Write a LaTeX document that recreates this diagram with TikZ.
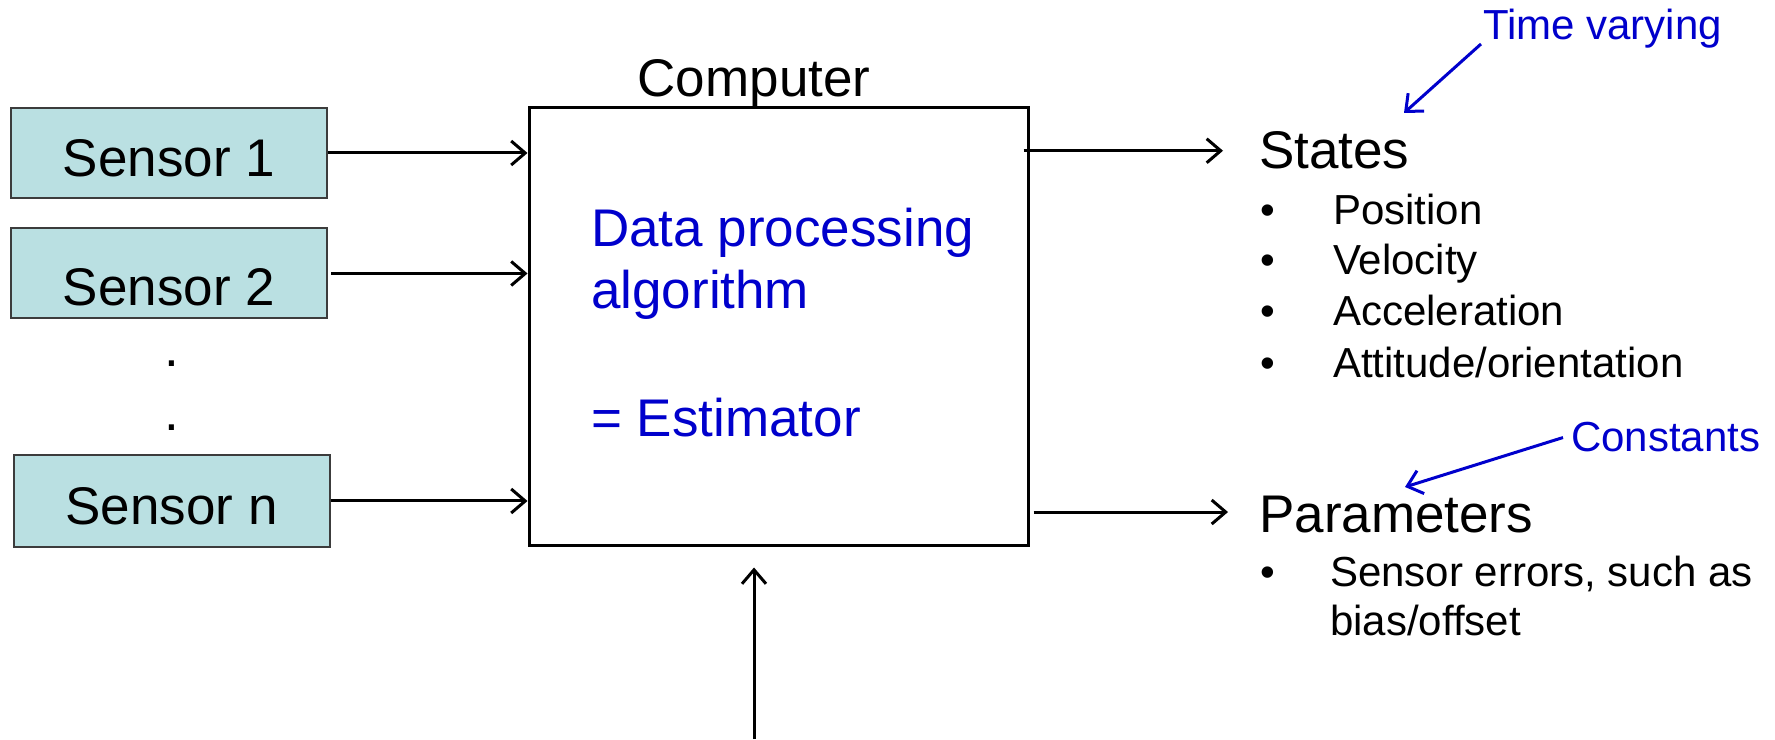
\documentclass[tikz,border=0pt]{standalone}
\usepackage{fontspec}
\setmainfont{Liberation Sans}
\usetikzlibrary{arrows.meta}
\definecolor{sensorfill}{RGB}{186,224,226}
\definecolor{sensorline}{RGB}{60,60,60}
\definecolor{noteblue}{RGB}{0,0,204}
\begin{document}
\begin{tikzpicture}[x=1pt,y=1pt,
  big/.style={font=\fontsize{53}{60}\selectfont, inner sep=0pt},
  small/.style={font=\fontsize{42}{49}\selectfont, inner sep=0pt},
  sensor/.style={big, draw=sensorline, line width=2pt, fill=sensorfill,
    minimum width=316pt, minimum height=90pt, text height=47pt, text depth=0pt},
  arr/.style={line width=3pt, -{Straight Barb[length=14pt,width=24pt]}},
  note/.style={small, text=noteblue},
  notearr/.style={arr, draw=noteblue},
  bullet/.style={small, anchor=base},
  item/.style={small, anchor=base west},
]
\useasboundingbox (0,0) rectangle (1775,739);

% sensors
\node[sensor] (s1) at (169,586) {Sensor 1};
\node[sensor, text height=65pt] (s2) at (169,465.5) {Sensor 2};
\node[sensor, minimum height=92pt] (sn) at (171.5,238) {Sensor n};
\node[big, anchor=base] (dot1) at (172,372.5) {.};
\node[big, anchor=base] (dot2) at (172,308.5) {.};

% computer block
\node[draw, line width=3pt, minimum width=499pt, minimum height=438pt, inner sep=0pt]
  (comp) at (778.5,412) {};
\node[big, anchor=base] (complabel) at (754,642) {Computer};
\node[big, anchor=base west, text=noteblue] (alg1) at (591,492) {Data processing};
\node[big, anchor=base west, text=noteblue] (alg2) at (591,430) {algorithm};
\node[big, anchor=base west, text=noteblue] (alg3) at (591,302) {= Estimator};

% sensor inputs
\draw[arr] (s1.east) -- (s1.east -| comp.west);
\draw[arr] ([xshift=3pt]s2.east) -- (s2.east -| comp.west);
\draw[arr] (sn.east) -- (sn.east -| comp.west);

% external input from below
\coordinate (ext) at (754,0);
\draw[arr] (ext) -- ([yshift=-20pt]ext |- comp.south);

% states
\node[big, anchor=base west] (states) at (1259,570) {States};
\node[bullet] (b1) at (1268,514.5) {•};
\node[item] (i1) at (1333,514.5) {Position};
\node[bullet] (b2) at (1268,464) {•};
\node[item] (i2) at (1333,464) {Velocity};
\node[bullet] (b3) at (1268,413) {•};
\node[item] (i3) at (1333,413) {Acceleration};
\node[bullet] (b4) at (1268,361.5) {•};
\node[item] (i4) at (1333,361.5) {Attitude/orientation};

% parameters
\node[big, anchor=base west] (params) at (1259,206) {Parameters};
\node[bullet] (b5) at (1268,152) {•};
\node[item] (i5) at (1330,152) {Sensor errors, such as};
\node[item] (i6) at (1330,103) {bias/offset};

% outputs
\draw[arr] ([xshift=-6pt]comp.east |- states.west) -- ([xshift=-36pt]states.west);
\draw[arr] ([xshift=4pt,yshift=3pt]comp.east |- params.west) -- ([xshift=-31pt,yshift=3pt]params.west);

% annotations
\node[note, anchor=base west] (tv) at (1483,699) {Time varying};
\coordinate (tvtip) at (1404,626);
\draw[notearr] ([xshift=-2pt,yshift=-4pt]tv.base west) -- (tvtip);
\node[note, anchor=base west] (cn) at (1571,287) {Constants};
\coordinate (cntip) at (1405,252);
\draw[notearr] ([xshift=-8pt]cn.west) -- (cntip);
\end{tikzpicture}
\end{document}
